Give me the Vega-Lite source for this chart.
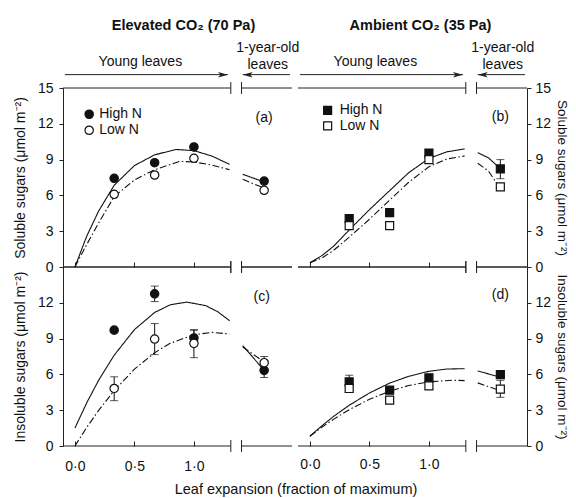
{
  "$schema": "https://vega.github.io/schema/vega-lite/v6.json",
  "padding": {"left": 13, "top": 17, "right": 0, "bottom": 2},
  "bounds": "flush",
  "columns": 2,
  "spacing": {"row": 0, "column": 6},
  "title": {"text": "Leaf expansion (fraction of maximum)", "orient": "bottom", "anchor": "middle", "fontSize": 14.5, "fontWeight": "normal", "offset": 10, "dx": 5, "color": "#111"},
  "config": {
    "font": "Liberation Sans",
    "view": {"stroke": null},
    "axis": {"domainColor": "#222", "tickColor": "#222", "labelColor": "#111", "titleColor": "#111", "labelFontSize": 14, "titleFontSize": 14, "titleFontWeight": "normal", "grid": false, "labelFlush": false, "domainWidth": 1, "tickWidth": 1},
    "text": {"font": "Liberation Sans", "color": "#111"}
  },
  "datasets": {
    "pts": [
      {"p": "a", "n": "High N", "x": 0.33, "y": 7.43},
      {"p": "a", "n": "High N", "x": 0.67, "y": 8.74},
      {"p": "a", "n": "High N", "x": 1.0, "y": 10.06},
      {"p": "a", "n": "High N", "x": 1.59, "y": 7.2},
      {"p": "a", "n": "Low N", "x": 0.33, "y": 6.09},
      {"p": "a", "n": "Low N", "x": 0.67, "y": 7.71},
      {"p": "a", "n": "Low N", "x": 1.0, "y": 9.11},
      {"p": "a", "n": "Low N", "x": 1.59, "y": 6.43},
      {"p": "b", "n": "High N", "x": 0.33, "y": 4.05},
      {"p": "b", "n": "High N", "x": 0.67, "y": 4.55},
      {"p": "b", "n": "High N", "x": 1.0, "y": 9.55},
      {"p": "b", "n": "High N", "x": 1.6, "y": 8.22, "lo": 7.4, "hi": 9.0},
      {"p": "b", "n": "Low N", "x": 0.33, "y": 3.47},
      {"p": "b", "n": "Low N", "x": 0.67, "y": 3.47},
      {"p": "b", "n": "Low N", "x": 1.0, "y": 9.0},
      {"p": "b", "n": "Low N", "x": 1.6, "y": 6.72},
      {"p": "c", "n": "High N", "x": 0.33, "y": 9.71},
      {"p": "c", "n": "High N", "x": 0.67, "y": 12.75, "lo": 12.1, "hi": 13.4},
      {"p": "c", "n": "High N", "x": 1.0, "y": 9.05, "lo": 8.4, "hi": 9.7},
      {"p": "c", "n": "High N", "x": 1.59, "y": 6.34, "lo": 5.74, "hi": 6.94},
      {"p": "c", "n": "Low N", "x": 0.33, "y": 4.82, "lo": 3.8, "hi": 5.8},
      {"p": "c", "n": "Low N", "x": 0.67, "y": 8.96, "lo": 7.66, "hi": 10.26},
      {"p": "c", "n": "Low N", "x": 1.0, "y": 8.6, "lo": 7.4, "hi": 9.75},
      {"p": "c", "n": "Low N", "x": 1.59, "y": 6.98, "lo": 6.48, "hi": 7.5},
      {"p": "d", "n": "High N", "x": 0.33, "y": 5.37, "lo": 4.8, "hi": 5.93},
      {"p": "d", "n": "High N", "x": 0.67, "y": 4.68},
      {"p": "d", "n": "High N", "x": 1.0, "y": 5.71},
      {"p": "d", "n": "High N", "x": 1.6, "y": 5.98},
      {"p": "d", "n": "Low N", "x": 0.33, "y": 4.82},
      {"p": "d", "n": "Low N", "x": 0.67, "y": 3.85},
      {"p": "d", "n": "Low N", "x": 1.0, "y": 5.04},
      {"p": "d", "n": "Low N", "x": 1.6, "y": 4.77, "lo": 4.08, "hi": 5.5}
    ],
    "curves": [
      {"p": "a", "n": "High N", "s": "young", "x": 0, "y": 0},
      {"p": "a", "n": "High N", "s": "young", "x": 0.1, "y": 2.6},
      {"p": "a", "n": "High N", "s": "young", "x": 0.2, "y": 4.7},
      {"p": "a", "n": "High N", "s": "young", "x": 0.33, "y": 6.85},
      {"p": "a", "n": "High N", "s": "young", "x": 0.5, "y": 8.5},
      {"p": "a", "n": "High N", "s": "young", "x": 0.67, "y": 9.4},
      {"p": "a", "n": "High N", "s": "young", "x": 0.85, "y": 9.85},
      {"p": "a", "n": "High N", "s": "young", "x": 1.0, "y": 9.75},
      {"p": "a", "n": "High N", "s": "young", "x": 1.15, "y": 9.3},
      {"p": "a", "n": "High N", "s": "young", "x": 1.3, "y": 8.6},
      {"p": "a", "n": "High N", "s": "old", "x": 1.41, "y": 7.77},
      {"p": "a", "n": "High N", "s": "old", "x": 1.59, "y": 7.12},
      {"p": "a", "n": "Low N", "s": "young", "x": 0, "y": 0},
      {"p": "a", "n": "Low N", "s": "young", "x": 0.1, "y": 1.9},
      {"p": "a", "n": "Low N", "s": "young", "x": 0.2, "y": 3.7},
      {"p": "a", "n": "Low N", "s": "young", "x": 0.33, "y": 5.9},
      {"p": "a", "n": "Low N", "s": "young", "x": 0.5, "y": 7.3},
      {"p": "a", "n": "Low N", "s": "young", "x": 0.67, "y": 8.15},
      {"p": "a", "n": "Low N", "s": "young", "x": 0.88, "y": 8.85},
      {"p": "a", "n": "Low N", "s": "young", "x": 1.0, "y": 8.8},
      {"p": "a", "n": "Low N", "s": "young", "x": 1.15, "y": 8.55},
      {"p": "a", "n": "Low N", "s": "young", "x": 1.3, "y": 8.15},
      {"p": "a", "n": "Low N", "s": "old", "x": 1.41, "y": 7.35},
      {"p": "a", "n": "Low N", "s": "old", "x": 1.58, "y": 6.65},
      {"p": "b", "n": "High N", "s": "young", "x": 0, "y": 0.35},
      {"p": "b", "n": "High N", "s": "young", "x": 0.1, "y": 0.95},
      {"p": "b", "n": "High N", "s": "young", "x": 0.2, "y": 1.75},
      {"p": "b", "n": "High N", "s": "young", "x": 0.33, "y": 3.1},
      {"p": "b", "n": "High N", "s": "young", "x": 0.5, "y": 4.8},
      {"p": "b", "n": "High N", "s": "young", "x": 0.67, "y": 6.4},
      {"p": "b", "n": "High N", "s": "young", "x": 0.83, "y": 7.9},
      {"p": "b", "n": "High N", "s": "young", "x": 1.0, "y": 9.1},
      {"p": "b", "n": "High N", "s": "young", "x": 1.15, "y": 9.65},
      {"p": "b", "n": "High N", "s": "young", "x": 1.3, "y": 9.9},
      {"p": "b", "n": "High N", "s": "old", "x": 1.41, "y": 9.58},
      {"p": "b", "n": "High N", "s": "old", "x": 1.5, "y": 9.15},
      {"p": "b", "n": "High N", "s": "old", "x": 1.59, "y": 8.33},
      {"p": "b", "n": "Low N", "s": "young", "x": 0, "y": 0.35},
      {"p": "b", "n": "Low N", "s": "young", "x": 0.1, "y": 0.75},
      {"p": "b", "n": "Low N", "s": "young", "x": 0.2, "y": 1.4},
      {"p": "b", "n": "Low N", "s": "young", "x": 0.33, "y": 2.5},
      {"p": "b", "n": "Low N", "s": "young", "x": 0.5, "y": 4.0},
      {"p": "b", "n": "Low N", "s": "young", "x": 0.67, "y": 5.6},
      {"p": "b", "n": "Low N", "s": "young", "x": 0.83, "y": 7.1},
      {"p": "b", "n": "Low N", "s": "young", "x": 1.0, "y": 8.4},
      {"p": "b", "n": "Low N", "s": "young", "x": 1.15, "y": 9.05},
      {"p": "b", "n": "Low N", "s": "young", "x": 1.3, "y": 9.3},
      {"p": "b", "n": "Low N", "s": "old", "x": 1.41, "y": 8.69},
      {"p": "b", "n": "Low N", "s": "old", "x": 1.5, "y": 8.05},
      {"p": "b", "n": "Low N", "s": "old", "x": 1.57, "y": 7.0},
      {"p": "c", "n": "High N", "s": "young", "x": 0, "y": 1.5},
      {"p": "c", "n": "High N", "s": "young", "x": 0.1, "y": 3.63},
      {"p": "c", "n": "High N", "s": "young", "x": 0.2, "y": 5.52},
      {"p": "c", "n": "High N", "s": "young", "x": 0.33, "y": 7.61},
      {"p": "c", "n": "High N", "s": "young", "x": 0.5, "y": 9.75},
      {"p": "c", "n": "High N", "s": "young", "x": 0.67, "y": 11.19},
      {"p": "c", "n": "High N", "s": "young", "x": 0.8, "y": 11.83},
      {"p": "c", "n": "High N", "s": "young", "x": 0.94, "y": 12.06},
      {"p": "c", "n": "High N", "s": "young", "x": 1.1, "y": 11.76},
      {"p": "c", "n": "High N", "s": "young", "x": 1.2, "y": 11.25},
      {"p": "c", "n": "High N", "s": "young", "x": 1.3, "y": 10.5},
      {"p": "c", "n": "High N", "s": "old", "x": 1.41, "y": 8.41},
      {"p": "c", "n": "High N", "s": "old", "x": 1.59, "y": 6.34},
      {"p": "c", "n": "Low N", "s": "young", "x": 0, "y": 0},
      {"p": "c", "n": "Low N", "s": "young", "x": 0.1, "y": 1.57},
      {"p": "c", "n": "Low N", "s": "young", "x": 0.2, "y": 2.99},
      {"p": "c", "n": "Low N", "s": "young", "x": 0.33, "y": 4.64},
      {"p": "c", "n": "Low N", "s": "young", "x": 0.5, "y": 6.44},
      {"p": "c", "n": "Low N", "s": "young", "x": 0.67, "y": 7.82},
      {"p": "c", "n": "Low N", "s": "young", "x": 0.8, "y": 8.6},
      {"p": "c", "n": "Low N", "s": "young", "x": 1.0, "y": 9.33},
      {"p": "c", "n": "Low N", "s": "young", "x": 1.16, "y": 9.52},
      {"p": "c", "n": "Low N", "s": "young", "x": 1.3, "y": 9.38},
      {"p": "c", "n": "Low N", "s": "old", "x": 1.41, "y": 8.3},
      {"p": "c", "n": "Low N", "s": "old", "x": 1.58, "y": 7.1},
      {"p": "d", "n": "High N", "s": "young", "x": 0, "y": 0.82},
      {"p": "d", "n": "High N", "s": "young", "x": 0.1, "y": 1.69},
      {"p": "d", "n": "High N", "s": "young", "x": 0.2, "y": 2.49},
      {"p": "d", "n": "High N", "s": "young", "x": 0.33, "y": 3.41},
      {"p": "d", "n": "High N", "s": "young", "x": 0.5, "y": 4.44},
      {"p": "d", "n": "High N", "s": "young", "x": 0.67, "y": 5.27},
      {"p": "d", "n": "High N", "s": "young", "x": 0.83, "y": 5.84},
      {"p": "d", "n": "High N", "s": "young", "x": 1.0, "y": 6.26},
      {"p": "d", "n": "High N", "s": "young", "x": 1.15, "y": 6.45},
      {"p": "d", "n": "High N", "s": "young", "x": 1.3, "y": 6.48},
      {"p": "d", "n": "High N", "s": "old", "x": 1.41, "y": 6.29},
      {"p": "d", "n": "High N", "s": "old", "x": 1.59, "y": 5.79},
      {"p": "d", "n": "Low N", "s": "young", "x": 0, "y": 0.82},
      {"p": "d", "n": "Low N", "s": "young", "x": 0.1, "y": 1.57},
      {"p": "d", "n": "Low N", "s": "young", "x": 0.2, "y": 2.25},
      {"p": "d", "n": "Low N", "s": "young", "x": 0.33, "y": 3.04},
      {"p": "d", "n": "Low N", "s": "young", "x": 0.5, "y": 3.92},
      {"p": "d", "n": "Low N", "s": "young", "x": 0.67, "y": 4.59},
      {"p": "d", "n": "Low N", "s": "young", "x": 0.83, "y": 5.07},
      {"p": "d", "n": "Low N", "s": "young", "x": 1.0, "y": 5.38},
      {"p": "d", "n": "Low N", "s": "young", "x": 1.2, "y": 5.51},
      {"p": "d", "n": "Low N", "s": "young", "x": 1.3, "y": 5.48},
      {"p": "d", "n": "Low N", "s": "old", "x": 1.41, "y": 5.29},
      {"p": "d", "n": "Low N", "s": "old", "x": 1.57, "y": 4.74}
    ],
    "hseg": [
      {"x": -0.1, "x2": 1.31, "y": 0},
      {"x": 1.40, "x2": 1.824, "y": 0},
      {"x": -0.1, "x2": 1.31, "y": 15},
      {"x": 1.40, "x2": 1.824, "y": 15}
    ],
    "brk": [
      {"x": 1.31, "y": -0.5, "y2": 0.5},
      {"x": 1.40, "y": -0.5, "y2": 0.5},
      {"x": 1.31, "y": 14.5, "y2": 15.5},
      {"x": 1.40, "y": 14.5, "y2": 15.5}
    ],
    "leg": [
      {"p": "a", "n": "High N", "x": 0.12, "y": 12.8},
      {"p": "a", "n": "Low N", "x": 0.12, "y": 11.46},
      {"p": "b", "n": "High N", "x": 0.149, "y": 13.13},
      {"p": "b", "n": "Low N", "x": 0.149, "y": 11.82}
    ],
    "plab": [
      {"p": "a", "x": 1.59, "y": 12.45, "t": "(a)"},
      {"p": "b", "x": 1.6, "y": 12.55, "t": "(b)"},
      {"p": "c", "x": 1.57, "y": 12.5, "t": "(c)"},
      {"p": "d", "x": 1.6, "y": 12.65, "t": "(d)"}
    ],
    "arrows": [
      {"x": -0.084, "x2": 1.286, "y": 16.12},
      {"x": 1.41, "x2": 1.807, "y": 16.12}
    ],
    "heads": [
      {"x": 1.244, "y": 16.12, "d": "right"},
      {"x": 1.452, "y": 16.12, "d": "left"}
    ],
    "notes": [
      {"x": 0.55, "y": 16.85, "t": "Young leaves"},
      {"x": 1.62, "y": 18.0, "t": "1-year-old"},
      {"x": 1.62, "y": 16.6, "t": "leaves"}
    ]
  },
  "concat": [
    {
      "width": 229, "height": 179,
      "title": {"text": "Elevated CO₂ (70 Pa)", "fontSize": 14.5, "fontWeight": "bold", "anchor": "middle", "frame": "group", "dx": 6, "offset": 8, "color": "#111"},
      "encoding": {
        "x": {"field": "x", "type": "quantitative", "scale": {"domain": [-0.1, 1.824], "nice": false, "zero": false},
              "axis": {"title": null, "orient": "bottom", "values": [0, 0.5, 1], "domain": false, "tickSize": -5, "labels": false}},
        "y": {"field": "y", "type": "quantitative", "scale": {"domain": [0, 15], "nice": false, "zero": false},
              "axis": {"title": "Soluble sugars (μmol m⁻²)", "orient": "left", "values": [0, 3, 6, 9, 12, 15], "tickSize": 4, "labelPadding": 6, "titlePadding": 10}}
      },
      "layer": [
        {"data": {"name": "hseg"}, "mark": {"type": "rule", "color": "#222", "strokeWidth": 1}, "encoding": {"x2": {"field": "x2"}}},
        {"data": {"name": "brk"}, "mark": {"type": "rule", "color": "#222", "strokeWidth": 1}, "encoding": {"y2": {"field": "y2"}}},
        {"data": {"values": [{}]}, "mark": {"type": "rule", "color": "#222", "strokeWidth": 1}, "encoding": {"x": {"datum": 1.824}, "y": {"datum": 0}, "y2": {"datum": 15}}},
        {"data": {"name": "curves"}, "transform": [{"filter": "datum.p == 'a'"}], "mark": {"type": "line", "color": "#111", "strokeWidth": 1.1},
         "encoding": {"strokeDash": {"field": "n", "type": "nominal", "scale": {"domain": ["High N", "Low N"], "range": [[1, 0], [7, 2.5, 1.5, 2.5]]}, "legend": null}, "detail": {"field": "s"}}},
        {"data": {"name": "pts"}, "transform": [{"filter": "datum.p == 'a'"}], "mark": {"type": "point", "shape": "circle", "size": 70, "strokeWidth": 1.2, "stroke": "#111", "opacity": 1},
         "encoding": {"fill": {"field": "n", "type": "nominal", "scale": {"domain": ["High N", "Low N"], "range": ["#111", "#ffffff"]}, "legend": null}, "order": {"field": "n"}}},
        {"data": {"name": "leg"}, "transform": [{"filter": "datum.p == 'a'"}], "mark": {"type": "point", "shape": "circle", "size": 70, "strokeWidth": 1.2, "stroke": "#111", "opacity": 1},
         "encoding": {"fill": {"field": "n", "type": "nominal", "legend": null}}},
        {"data": {"name": "leg"}, "transform": [{"filter": "datum.p == 'a'"}], "mark": {"type": "text", "align": "left", "baseline": "middle", "dx": 10, "fontSize": 14},
         "encoding": {"text": {"field": "n"}}},
        {"data": {"name": "plab"}, "transform": [{"filter": "datum.p == 'a'"}], "mark": {"type": "text", "align": "center", "baseline": "middle", "fontSize": 14},
         "encoding": {"text": {"field": "t"}}},
        {"data": {"name": "arrows"}, "mark": {"type": "rule", "color": "#222", "strokeWidth": 1}, "encoding": {"x2": {"field": "x2"}}},
        {"data": {"name": "heads"}, "mark": {"type": "point", "filled": true, "color": "#222", "size": 100, "opacity": 1},
         "encoding": {"shape": {"field": "d", "type": "nominal", "scale": {"domain": ["right", "left"], "range": ["M1,0L-1,-0.55L-0.5,0L-1,0.55Z", "M-1,0L1,-0.55L0.5,0L1,0.55Z"]}, "legend": null}}},
        {"data": {"name": "notes"}, "mark": {"type": "text", "align": "center", "baseline": "alphabetic", "fontSize": 14},
         "encoding": {"text": {"field": "t"}}}
      ]
    },
    {
      "width": 229, "height": 179,
      "title": {"text": "Ambient CO₂ (35 Pa)", "fontSize": 14.5, "fontWeight": "bold", "anchor": "middle", "frame": "group", "dx": 8, "offset": 8, "color": "#111"},
      "encoding": {
        "x": {"field": "x", "type": "quantitative", "scale": {"domain": [-0.1, 1.824], "nice": false, "zero": false},
              "axis": {"title": null, "orient": "bottom", "values": [0, 0.5, 1], "domain": false, "tickSize": -5, "labels": false}},
        "y": {"field": "y", "type": "quantitative", "scale": {"domain": [0, 15], "nice": false, "zero": false},
              "axis": {"title": "Soluble sugars (μmol m⁻²)", "orient": "right", "values": [0, 3, 6, 9, 12, 15], "tickSize": 4, "labelPadding": 4, "titlePadding": 4, "titleFontSize": 13.5}}
      },
      "layer": [
        {"data": {"name": "hseg"}, "mark": {"type": "rule", "color": "#222", "strokeWidth": 1}, "encoding": {"x2": {"field": "x2"}}},
        {"data": {"name": "brk"}, "mark": {"type": "rule", "color": "#222", "strokeWidth": 1}, "encoding": {"y2": {"field": "y2"}}},
        {"data": {"values": [{}]}, "mark": {"type": "rule", "color": "#222", "strokeWidth": 1}, "encoding": {"x": {"datum": -0.1}, "y": {"datum": 0}, "y2": {"datum": 15}}},
        {"data": {"name": "curves"}, "transform": [{"filter": "datum.p == 'b'"}], "mark": {"type": "line", "color": "#111", "strokeWidth": 1.1},
         "encoding": {"strokeDash": {"field": "n", "type": "nominal", "legend": null}, "detail": {"field": "s"}}},
        {"data": {"name": "pts"}, "transform": [{"filter": "datum.p == 'b' && isValid(datum.lo)"}], "mark": {"type": "errorbar", "color": "#111", "thickness": 1, "ticks": {"size": 8, "thickness": 1}},
         "encoding": {"y": {"field": "lo", "type": "quantitative", "scale": {"domain": [0, 15], "nice": false, "zero": false}}, "y2": {"field": "hi"}}},
        {"data": {"name": "pts"}, "transform": [{"filter": "datum.p == 'b'"}], "mark": {"type": "point", "shape": "square", "size": 64, "strokeWidth": 1.2, "stroke": "#111", "opacity": 1},
         "encoding": {"fill": {"field": "n", "type": "nominal", "legend": null}, "order": {"field": "n"}}},
        {"data": {"name": "leg"}, "transform": [{"filter": "datum.p == 'b'"}], "mark": {"type": "point", "shape": "square", "size": 64, "strokeWidth": 1.2, "stroke": "#111", "opacity": 1},
         "encoding": {"fill": {"field": "n", "type": "nominal", "legend": null}}},
        {"data": {"name": "leg"}, "transform": [{"filter": "datum.p == 'b'"}], "mark": {"type": "text", "align": "left", "baseline": "middle", "dx": 12, "fontSize": 14},
         "encoding": {"text": {"field": "n"}}},
        {"data": {"name": "plab"}, "transform": [{"filter": "datum.p == 'b'"}], "mark": {"type": "text", "align": "center", "baseline": "middle", "fontSize": 14},
         "encoding": {"text": {"field": "t"}}},
        {"data": {"name": "arrows"}, "mark": {"type": "rule", "color": "#222", "strokeWidth": 1}, "encoding": {"x2": {"field": "x2"}}},
        {"data": {"name": "heads"}, "mark": {"type": "point", "filled": true, "color": "#222", "size": 100, "opacity": 1},
         "encoding": {"shape": {"field": "d", "type": "nominal", "scale": {"domain": ["right", "left"], "range": ["M1,0L-1,-0.55L-0.5,0L-1,0.55Z", "M-1,0L1,-0.55L0.5,0L1,0.55Z"]}, "legend": null}}},
        {"data": {"name": "notes"}, "mark": {"type": "text", "align": "center", "baseline": "alphabetic", "fontSize": 14},
         "encoding": {"text": {"field": "t"}}}
      ]
    },
    {
      "width": 229, "height": 179,
      "encoding": {
        "x": {"field": "x", "type": "quantitative", "scale": {"domain": [-0.1, 1.824], "nice": false, "zero": false},
              "axis": {"title": null, "orient": "bottom", "values": [0, 0.5, 1], "domain": false, "tickSize": -5, "labelPadding": 18, "labelExpr": "replace(format(datum.value, '.1f'), '.', '·')"}},
        "y": {"field": "y", "type": "quantitative", "scale": {"domain": [0, 15], "nice": false, "zero": false},
              "axis": {"title": "Insoluble sugars (μmol m⁻²)", "orient": "left", "values": [0, 3, 6, 9, 12], "tickSize": 4, "labelPadding": 6, "titlePadding": 10}}
      },
      "layer": [
        {"data": {"name": "hseg"}, "mark": {"type": "rule", "color": "#222", "strokeWidth": 1}, "encoding": {"x2": {"field": "x2"}}},
        {"data": {"name": "brk"}, "mark": {"type": "rule", "color": "#222", "strokeWidth": 1}, "encoding": {"y2": {"field": "y2"}}},
        {"data": {"values": [{}]}, "mark": {"type": "rule", "color": "#222", "strokeWidth": 1}, "encoding": {"x": {"datum": 1.824}, "y": {"datum": 0}, "y2": {"datum": 15}}},
        {"data": {"name": "curves"}, "transform": [{"filter": "datum.p == 'c'"}], "mark": {"type": "line", "color": "#111", "strokeWidth": 1.1},
         "encoding": {"strokeDash": {"field": "n", "type": "nominal", "legend": null}, "detail": {"field": "s"}}},
        {"data": {"name": "pts"}, "transform": [{"filter": "datum.p == 'c' && isValid(datum.lo)"}], "mark": {"type": "errorbar", "color": "#111", "thickness": 1, "ticks": {"size": 8, "thickness": 1}},
         "encoding": {"y": {"field": "lo", "type": "quantitative", "scale": {"domain": [0, 15], "nice": false, "zero": false}}, "y2": {"field": "hi"}}},
        {"data": {"name": "pts"}, "transform": [{"filter": "datum.p == 'c'"}], "mark": {"type": "point", "shape": "circle", "size": 70, "strokeWidth": 1.2, "stroke": "#111", "opacity": 1},
         "encoding": {"fill": {"field": "n", "type": "nominal", "legend": null}, "order": {"field": "n"}}},
        {"data": {"name": "plab"}, "transform": [{"filter": "datum.p == 'c'"}], "mark": {"type": "text", "align": "center", "baseline": "middle", "fontSize": 14},
         "encoding": {"text": {"field": "t"}}}
      ]
    },
    {
      "width": 229, "height": 179,
      "encoding": {
        "x": {"field": "x", "type": "quantitative", "scale": {"domain": [-0.1, 1.824], "nice": false, "zero": false},
              "axis": {"title": null, "orient": "bottom", "values": [0, 0.5, 1], "domain": false, "tickSize": -5, "labelPadding": 16, "labelExpr": "replace(format(datum.value, '.1f'), '.', '·')"}},
        "y": {"field": "y", "type": "quantitative", "scale": {"domain": [0, 15], "nice": false, "zero": false},
              "axis": {"title": "Insoluble sugars (μmol m⁻²)", "orient": "right", "values": [0, 3, 6, 9, 12], "tickSize": 4, "labelPadding": 4, "titlePadding": 4, "titleFontSize": 13.5}}
      },
      "layer": [
        {"data": {"name": "hseg"}, "mark": {"type": "rule", "color": "#222", "strokeWidth": 1}, "encoding": {"x2": {"field": "x2"}}},
        {"data": {"name": "brk"}, "mark": {"type": "rule", "color": "#222", "strokeWidth": 1}, "encoding": {"y2": {"field": "y2"}}},
        {"data": {"values": [{}]}, "mark": {"type": "rule", "color": "#222", "strokeWidth": 1}, "encoding": {"x": {"datum": -0.1}, "y": {"datum": 0}, "y2": {"datum": 15}}},
        {"data": {"name": "curves"}, "transform": [{"filter": "datum.p == 'd'"}], "mark": {"type": "line", "color": "#111", "strokeWidth": 1.1},
         "encoding": {"strokeDash": {"field": "n", "type": "nominal", "legend": null}, "detail": {"field": "s"}}},
        {"data": {"name": "pts"}, "transform": [{"filter": "datum.p == 'd' && isValid(datum.lo)"}], "mark": {"type": "errorbar", "color": "#111", "thickness": 1, "ticks": {"size": 8, "thickness": 1}},
         "encoding": {"y": {"field": "lo", "type": "quantitative", "scale": {"domain": [0, 15], "nice": false, "zero": false}}, "y2": {"field": "hi"}}},
        {"data": {"name": "pts"}, "transform": [{"filter": "datum.p == 'd'"}], "mark": {"type": "point", "shape": "square", "size": 64, "strokeWidth": 1.2, "stroke": "#111", "opacity": 1},
         "encoding": {"fill": {"field": "n", "type": "nominal", "legend": null}, "order": {"field": "n"}}},
        {"data": {"name": "plab"}, "transform": [{"filter": "datum.p == 'd'"}], "mark": {"type": "text", "align": "center", "baseline": "middle", "fontSize": 14},
         "encoding": {"text": {"field": "t"}}}
      ]
    }
  ]
}
